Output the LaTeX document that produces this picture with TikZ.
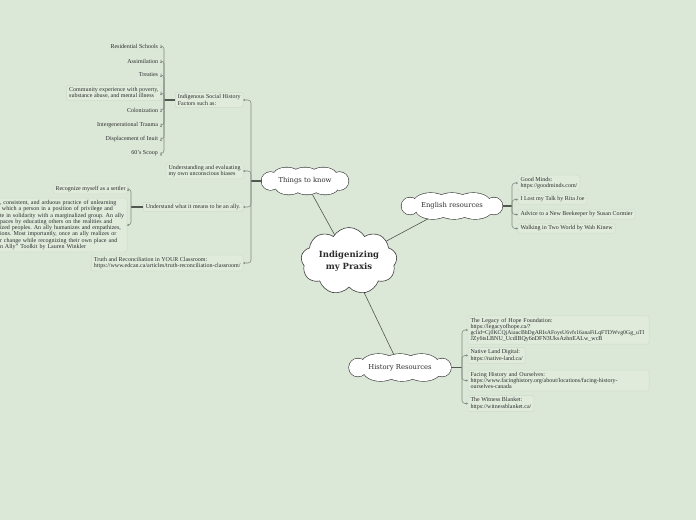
\documentclass[tikz,border=0pt]{standalone}
\usepackage{fontspec}
\setmainfont{Liberation Serif}
\newfontfamily\slabf{DejaVu Serif}
\usetikzlibrary{shapes.symbols,arrows.meta}
\definecolor{bg}{RGB}{219,231,215}
\definecolor{boxfill}{RGB}{224,235,220}
\definecolor{boxline}{RGB}{207,221,203}
\definecolor{brline}{RGB}{130,140,130}
\definecolor{joinline}{RGB}{80,88,80}
\definecolor{cloudline}{RGB}{60,60,60}
\definecolor{txt}{RGB}{45,45,45}
\frenchspacing
\pgfdeclarelayer{bgl}
\pgfdeclarelayer{back}
\pgfsetlayers{bgl,back,main}
\tikzset{
 pics/puffy/.style 2 args={code={
  \pgfmathsetmacro\re{#2-4.5}
  \pgfmathsetmacro\ex{#1-\re}
  \pgfmathsetmacro\s{0.42*#1}
  \pgfmathsetmacro\rx{0.8*\s}
  \pgfmathsetmacro\ry{#2-3.5}
  \pgfmathsetmacro\oy{3.5}
  \pgfmathsetmacro\sb{\s+2}
  \pgfmathsetmacro\sa{-\s+2}
  \def\lobes{(-\ex,0) circle (\re) (\ex,0) circle (\re)
    (-\s,-\oy) ellipse [x radius=\rx, y radius=\ry] (0,-\oy) ellipse [x radius=\rx, y radius=\ry] (\s,-\oy) ellipse [x radius=\rx, y radius=\ry]
    (\sa,\oy) ellipse [x radius=\rx, y radius=\ry] (2,\oy) ellipse [x radius=\rx, y radius=\ry] (\sb,\oy) ellipse [x radius=\rx, y radius=\ry]}
  \draw[line width=1.2pt, cloudline] \lobes;
  \fill[white] \lobes;
 }}
}
\begin{document}
\begin{tikzpicture}[x=1pt,y=-1pt,
 every node/.style={inner sep=0pt, outer sep=0pt, text=txt},
 topic/.style={rectangle, font=\slabf\fontsize{6.8}{8}\selectfont},
 central/.style={cloud, cloud puffs=9, cloud puff arc=120, cloud ignores aspect, draw=cloudline, fill=white, line width=0.6pt, font=\slabf\bfseries\fontsize{8.5}{12}\selectfont, align=center},
 note/.style={draw=boxline, fill=boxfill, rounded corners=1.5pt, inner xsep=2.5pt, inner ysep=2pt, align=left, font=\fontsize{6}{6.3}\selectfont, line width=0.5pt},
 leaf/.style={inner xsep=3pt, inner ysep=1pt, font=\fontsize{6}{6.3}\selectfont},
 link/.style={draw=joinline, line width=0.6pt},
 trunk/.style={draw=joinline, line width=1.2pt},
 branch/.style={draw=brline, line width=0.6pt, rounded corners=3pt, -{Stealth[length=2.2pt,width=2.2pt]}},
]
\begin{pgfonlayer}{bgl}
\fill[bg] (0,0) rectangle (696,520);
\end{pgfonlayer}
\useasboundingbox (0,0) rectangle (696,520);

% clouds
\pic at (305,181) {puffy={43.5}{13.5}};
\pic at (452,206) {puffy={50.5}{13}};
\pic at (400,367.5) {puffy={51}{13.5}};
\node[central, minimum width=96pt, minimum height=67pt] (C) at (349,261) {Indigenizing\\my Praxis};
\node[topic, minimum width=87pt, minimum height=27pt] (T) at (305,181) {Things to know};
\node[topic, minimum width=101pt, minimum height=26pt] (E) at (452,206) {English resources};
\node[topic, minimum width=102pt, minimum height=27pt] (H) at (400,367.5) {History Resources};

\begin{pgfonlayer}{back}
\draw[link] (C) -- (T);
\draw[link] (C) -- (E);
\draw[link] (C) -- (H);
\end{pgfonlayer}

% Things to know
\node[note, anchor=east] (ish) at (243,100) {Indigenous Social History\\Factors such as:};
\node[note, anchor=east] (ue) at (243,171) {Understanding and evaluating\\my own unconscious biases};
\node[note, anchor=east] (ua) at (243,207) {Understand what it means to be an ally.};
\node[note, anchor=east] (tr) at (243,263) {Truth and Reconciliation in YOUR Classroom:\\https://www.edcan.ca/articles/truth-reconciliation-classroom/};
\coordinate (jT) at (251,181);
\draw[trunk] (T.west) -- (jT);
\foreach \c in {ish,ue,ua,tr} \draw[branch] (jT) |- (\c.east);

% Indigenous social history factors
\node[leaf, anchor=east] (i1) at (161,46) {Residential Schools};
\node[leaf, anchor=east] (i2) at (161,61) {Assimilation};
\node[leaf, anchor=east] (i3) at (161,75) {Treaties};
\node[note, anchor=east] (i4) at (161,93) {Community experience with poverty,\\substance abuse, and mental illness};
\node[leaf, anchor=east] (i5) at (161,110) {Colonization};
\node[leaf, anchor=east] (i6) at (161,125) {Intergenerational Trauma};
\node[leaf, anchor=east] (i7) at (161,139) {Displacement of Inuit};
\node[leaf, anchor=east] (i8) at (161,153.5) {60's Scoop};
\coordinate (jI) at (164,100);
\draw[trunk] (ish.west) -- (jI);
\foreach \c in {i1,i2,i3,i4,i5,i6,i7,i8} \draw[branch] (jI) |- (\c.east);

% Ally
\node[note, anchor=east] (a1) at (128,189) {Recognize myself as a settler};
\node[note, anchor=east, text width=124.5pt] (a2) at (127,225) {\mbox{, consistent, and arduous practice of unlearning}\\
\mbox{ which a person in a position of privilege and}\\
\mbox{te in solidarity with a marginalized group. An ally}\\
\mbox{paces by educating others on the realities and}\\
\mbox{ized peoples. An ally humanizes and empathizes,}\\
\mbox{ions. Most importantly, once an ally realizes or}\\
\mbox{r change while recognizing their own place and}\\
\mbox{n Ally'' Toolkit by Lauren Winkler}};
\coordinate (jA) at (131,207);
\draw[trunk] (ua.west) -- (jA);
\foreach \c in {a1,a2} \draw[branch] (jA) |- (\c.east);

% English resources
\node[note, anchor=west] (e1) at (518,183) {Good Minds:\\https://goodminds.com/};
\node[note, anchor=west] (e2) at (518,199.5) {I Lost my Talk by Rita Joe};
\node[note, anchor=west] (e3) at (518,214.5) {Advice to a New Beekeeper by Susan Cormier};
\node[note, anchor=west] (e4) at (518,228.5) {Walking in Two World by Wab Kinew};
\coordinate (jE) at (512,206);
\draw[trunk] (E.east) -- (jE);
\foreach \c in {e1,e2,e3,e4} \draw[branch] (jE) |- (\c.west);

% History resources
\node[note, anchor=west, text width=176pt] (h1) at (468,330) {The Legacy of Hope Foundation:\\
https://legacyofhope.ca/?\\
\mbox{\fontsize{5.75}{6.3}\selectfont gclid=Cj0KCQjAiaucBhDgARIsAFoysU6vfs16anaFiLqFTDWvg0Gg\_uTI}\\
\mbox{JZy6tsLBNU\_UcdlBQy6nDFN3UksAzhnEALw\_wcB}};
\node[note, anchor=west] (h2) at (468,355.5) {Native Land Digital:\\https://native-land.ca/};
\node[note, anchor=west, text width=176pt] (h3) at (468,380.5) {Facing History and Ourselves:\\
\mbox{https://www.facinghistory.org/about/locations/facing-history-}\\
ourselves-canada};
\node[note, anchor=west] (h4) at (468,403.5) {The Witness Blanket:\\https://witnessblanket.ca/};
\coordinate (jH) at (462,367.5);
\draw[trunk] (H.east) -- (jH);
\foreach \c in {h1,h2,h3,h4} \draw[branch] (jH) |- (\c.west);
\end{tikzpicture}
\end{document}
